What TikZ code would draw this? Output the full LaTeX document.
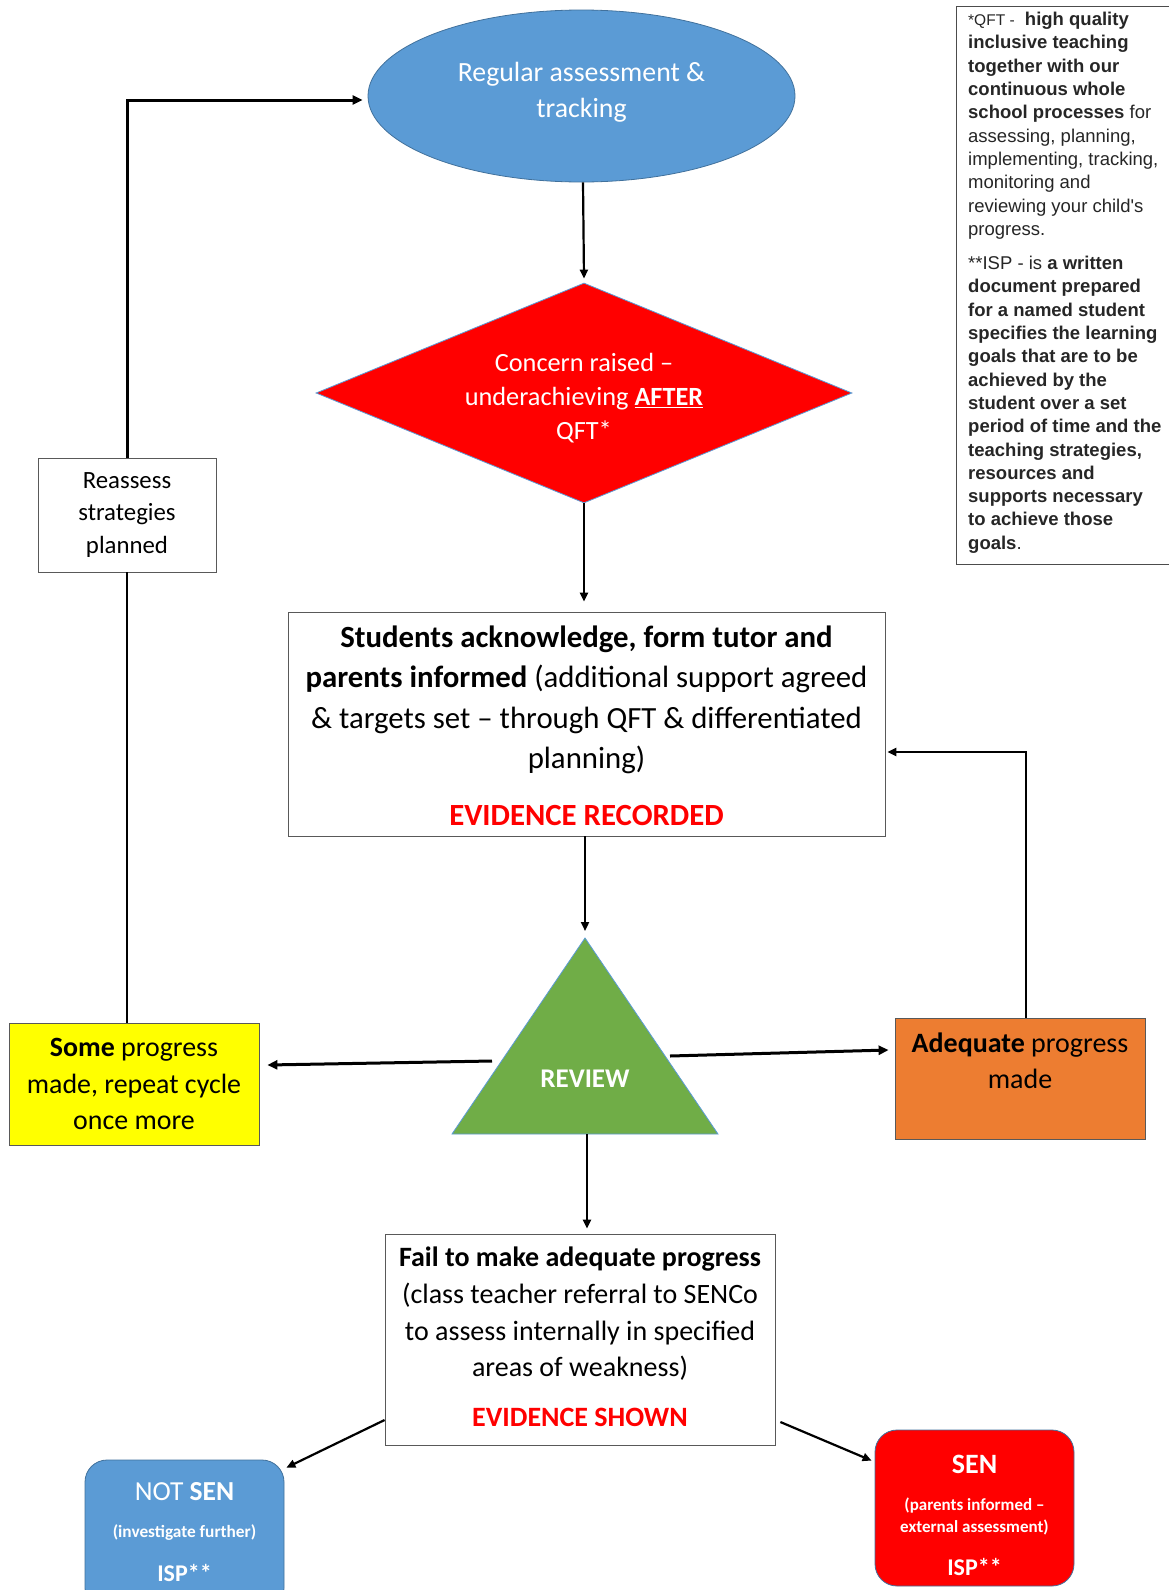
\documentclass[tikz,border=0pt]{standalone}
\usepackage{fontspec}
\setmainfont{Carlito}
\newfontfamily\arialf{Liberation Sans}
\usetikzlibrary{arrows.meta,calc,shapes.geometric}
\definecolor{cblue}{HTML}{5B9BD5}
\definecolor{cblueline}{HTML}{41719C}
\definecolor{cgreen}{HTML}{70AD47}
\definecolor{corange}{HTML}{ED7D31}
\definecolor{cyellow}{HTML}{FFFF00}
\definecolor{cred}{HTML}{FF0000}
\begin{document}
\begin{tikzpicture}[x=1pt,y=-1pt,
  arr/.style={-{Triangle[length=9pt,width=8pt]}, line width=2.2pt},
  thickarr/.style={-{Triangle[length=10pt,width=9pt]}, line width=3pt},
  box/.style={draw=black!65, line width=0.8pt, rectangle, inner sep=0pt},
  rbox/.style={draw=cblueline, line width=0.8pt, rectangle, rounded corners=22pt, inner sep=0pt},
  txt/.style={align=center, inner sep=0pt}
]
\fill[white] (0,0) rectangle (1168,1590);
\useasboundingbox (0,0) rectangle (1168,1590);

% ellipse
\node[ellipse, fill=cblue, draw=cblueline, line width=0.8pt, minimum width=427pt, minimum height=172pt, inner sep=0pt] (ell) at (581.5,96) {};
\node[txt, text=white, font=\fontsize{27.8}{35.5}\selectfont] (elltext) at (581.5,92) {Regular assessment \&\\tracking};

% diamond
\node[diamond, fill=cred, draw=cblue, line width=0.8pt, minimum width=536pt, minimum height=220pt, inner sep=0pt] (dia) at (584,393) {};
\node[txt, text=white, font=\fontsize{26.3}{34}\selectfont] (diatext) at (584,398) {Concern raised --\\underachieving \underline{\textbf{AFTER}}\\QFT*};

% main box
\node[box, minimum width=597pt, minimum height=224pt] (main) at (586.5,724) {};
\node[txt, font=\fontsize{30.8}{40.5}\selectfont] (maintext) at (586.5,700) {\textbf{Students acknowledge, form tutor and}\\\textbf{parents informed} (additional support agreed\\\& targets set -- through QFT \& differentiated\\planning)};
\node[txt, text=cred, font=\fontsize{30.8}{32}\selectfont\bfseries] (evrec) at (586.5,815) {EVIDENCE RECORDED};

% reassess
\node[box, minimum width=178pt, minimum height=114pt, font=\fontsize{24.8}{32.7}\selectfont, align=center] (reass) at (127,515) {Reassess\\strategies\\planned};

% triangle
\coordinate (tA) at (585,938);
\coordinate (tL) at (452,1134);
\coordinate (tR) at (718,1134);
\fill[cgreen] (tA) -- (tL) -- (tR) -- cycle;
\draw[cblue, line width=0.8pt] (tA) -- (tL) -- (tR) -- cycle;
\node[txt, text=white, font=\fontsize{27}{30}\selectfont\bfseries] (review) at (585,1079) {REVIEW};

% yellow
\node[box, fill=cyellow, minimum width=250pt, minimum height=122pt, font=\fontsize{27.9}{36.5}\selectfont, align=center] (some) at (134,1084) {\textbf{Some} progress\\made, repeat cycle\\once more};

% orange
\node[box, fill=corange, minimum width=250pt, minimum height=121pt] (adeq) at (1020,1078.5) {};
\node[txt, font=\fontsize{28}{36}\selectfont] (adeqtext) at (1020,1061) {\textbf{Adequate} progress\\made};

% fail box
\node[box, minimum width=390pt, minimum height=211pt] (fail) at (580,1339.5) {};
\node[txt, font=\fontsize{28}{36.7}\selectfont] (failtext) at (580,1314) {\textbf{Fail to make adequate progress}\\(class teacher referral to SENCo\\to assess internally in specified\\areas of weakness)};
\node[txt, text=cred, font=\fontsize{28}{30}\selectfont\bfseries] (evshow) at (580,1417) {EVIDENCE SHOWN};

% NOT SEN
\node[rbox, fill=cblue, minimum width=199pt, minimum height=150pt] (notsen) at (184.5,1535) {};
\node[txt, text=white, font=\fontsize{27.5}{30}\selectfont] (nsA) at (184.5,1492) {NOT \textbf{SEN}};
\node[txt, text=white, font=\fontsize{17.3}{20}\selectfont\bfseries] (nsB) at (184.5,1533) {(investigate further)};
\node[txt, text=white, font=\fontsize{24}{28}\selectfont\bfseries] (nsC) at (184.5,1573) {ISP**};

% SEN
\node[rbox, fill=cred, minimum width=199pt, minimum height=156pt] (sen) at (974.5,1508) {};
\node[txt, text=white, font=\fontsize{28}{30}\selectfont\bfseries] (sA) at (974.5,1464) {SEN};
\node[txt, text=white, font=\fontsize{17}{22}\selectfont\bfseries] (sB) at (974.5,1516) {(parents informed --\\external assessment)};
\node[txt, text=white, font=\fontsize{24}{28}\selectfont\bfseries] (sC) at (974.5,1567) {ISP**};

% footnote box
\node[draw=black!70, line width=0.8pt, minimum width=224pt, minimum height=558pt, inner sep=0pt] (foot) at (1068,285) {};
\node[anchor=north west, inner sep=0pt, align=left, text=black!85, font=\arialf\fontsize{18.5}{23.3}\selectfont] (foottext) at (968,12) {%
{\fontsize{15.5}{23.3}\selectfont *QFT -}\ \ \textbf{high quality}\\
\textbf{inclusive teaching}\\
\textbf{together with our}\\
\textbf{continuous whole}\\
\textbf{school processes} for\\
assessing, planning,\\
implementing, tracking,\\
monitoring and\\
reviewing your child's\\
progress.\\[11pt]
**ISP - is \textbf{a written}\\
\textbf{document prepared}\\
\textbf{for a named student}\\
\textbf{specifies the learning}\\
\textbf{goals that are to be}\\
\textbf{achieved by the}\\
\textbf{student over a set}\\
\textbf{period of time and the}\\
\textbf{teaching strategies,}\\
\textbf{resources and}\\
\textbf{supports necessary}\\
\textbf{to achieve those}\\
\textbf{goals}.};

% connectors
\coordinate (tleft) at (492,1061);
\coordinate (tright) at (670,1056);
\coordinate (tbase) at (587,1134);
\draw[arr] ([xshift=1.5pt]ell.south) -- ([yshift=4pt]dia.north);
\draw[arr] (dia.south) -- ([yshift=10pt]dia.south |- main.north);
\draw[arr] (main.south -| tA) -- ([yshift=7pt]tA);
\draw[thickarr] (tleft) -- ([xshift=8pt,yshift=19pt]some.east);
\draw[thickarr] (tright) -- ([xshift=-6pt,yshift=28.5pt]adeq.west);
\draw[arr] (tbase) -- ([yshift=5pt]tbase |- fail.north);
\draw[arr] ([yshift=-80.5pt]fail.west) -- ([xshift=2pt,yshift=-8pt]notsen.north east);
\draw[arr] ([xshift=5pt,yshift=-82.5pt]fail.east) -- ([xshift=-3pt,yshift=-31pt]sen.north west);
\draw[line width=2.5pt] (reass.south |- some.north) -- (reass.south);
\draw[thickarr] (reass.north) |- ([xshift=-5pt,yshift=-4pt]ell.west);
\draw[arr] ([xshift=6pt]adeq.north) |- ([xshift=2pt,yshift=-28pt]main.east);
\end{tikzpicture}
\end{document}
